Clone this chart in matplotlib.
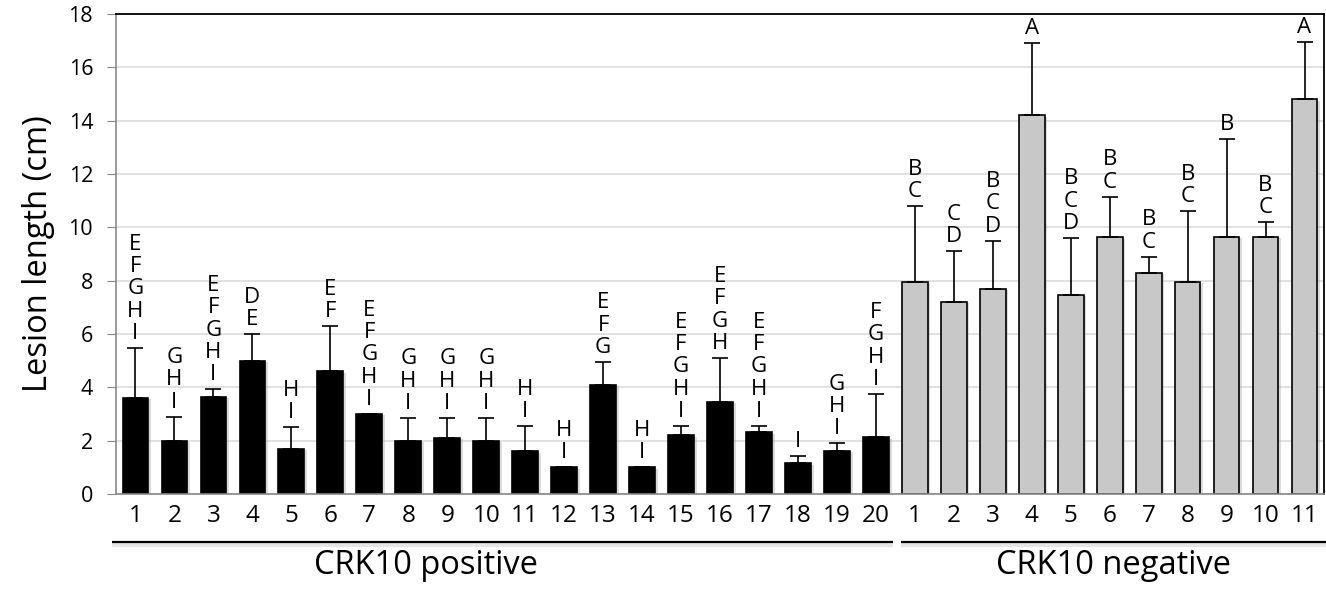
import matplotlib

matplotlib.use("Agg")
import matplotlib.patheffects as pe
import matplotlib.pyplot as plt
import matplotlib.transforms as mtransforms
import numpy as np

plt.rcParams["font.family"] = ["Open Sans", "DejaVu Sans"]

# CRK10 positive lines (black bars)
pos_labels = [str(i) for i in range(1, 21)]
pos_mean = [3.6, 2.0, 3.65, 5.0, 1.7, 4.6, 3.0, 2.0, 2.1, 2.0,
            1.6, 1.0, 4.1, 1.0, 2.2, 3.45, 2.32, 1.15, 1.62, 2.13]
pos_err = [1.87, 0.9, 0.27, 1.0, 0.8, 1.7, 0.0, 0.85, 0.75, 0.85,
           0.95, 0.0, 0.85, 0.0, 0.35, 1.65, 0.23, 0.27, 0.28, 1.62]
pos_letters = ["EFGHI", "GHI", "EFGHI", "DE", "HI", "EF", "EFGHI", "GHI", "GHI", "GHI",
               "HI", "HI", "EFG", "HI", "EFGHI", "EFGH", "EFGHI", "I", "GHI", "FGHI"]

# CRK10 negative lines (grey bars)
neg_labels = [str(i) for i in range(1, 12)]
neg_mean = [7.95, 7.2, 7.7, 14.2, 7.46, 9.62, 8.3, 7.95, 9.65, 9.64, 14.8]
neg_err = [2.85, 1.9, 1.8, 2.7, 2.14, 1.53, 0.6, 2.65, 3.65, 0.56, 2.15]
neg_letters = ["BC", "CD", "BCD", "A", "BCD", "BC", "BC", "BC", "B", "BC", "A"]

groups = ["CRK10 positive", "CRK10 negative"]
y_ticks = list(range(0, 19, 2))

means = pos_mean + neg_mean
errs = pos_err + neg_err
letters = pos_letters + neg_letters
tick_labels = pos_labels + neg_labels
colors = ["black"] * len(pos_mean) + ["#c8c8c8"] * len(neg_mean)
x = np.arange(len(means))

fig = plt.figure(figsize=(13.26, 5.9), dpi=100)
ax = fig.add_axes([116 / 1326, 1 - 494 / 590, 1208 / 1326, 480 / 590])

ax.set_axisbelow(True)
ax.yaxis.grid(True, color="#d9d9d9", linewidth=1.1)
bars = ax.bar(x, means, width=0.66, color=colors, edgecolor="black", linewidth=1.2, zorder=2)
# soft drop shadow like the office-style original
for b in bars:
    b.set_path_effects([pe.SimplePatchShadow(offset=(2, -1), shadow_rgbFace="#9a9a9a", alpha=0.35),
                        pe.Normal()])
ax.errorbar(x, means, yerr=[np.zeros(len(errs)), errs], fmt="none", ecolor="black",
            elinewidth=1.2, capsize=5.5, capthick=1.2, zorder=3)

for xi, m, e, lab in zip(x, means, errs, letters):
    ax.annotate("\n".join(lab), xy=(xi, m + e), xytext=(0, 3), textcoords="offset points",
                ha="center", va="bottom", fontsize=16, linespacing=1.08)

ax.set_xlim(-0.5, len(means) - 0.5)
ax.set_ylim(0, 18)
ax.set_yticks(y_ticks)
ax.set_xticks(x)
ax.set_xticklabels(tick_labels, fontsize=17.5)
ax.tick_params(axis="x", length=0, pad=7)
ax.tick_params(axis="y", labelsize=15.5, length=6.5, color="#888888", pad=10)
ax.set_ylabel("Lesion length (cm)", fontsize=23.5, labelpad=10)

for side in ("top", "right"):
    ax.spines[side].set_color("black")
    ax.spines[side].set_linewidth(1.3)
for side in ("left", "bottom"):
    ax.spines[side].set_color("#888888")
    ax.spines[side].set_linewidth(1.2)

# group underlines and labels below the axis
trans = mtransforms.blended_transform_factory(ax.transData, fig.transFigure)
n_pos = len(pos_mean)
spans = [(-0.6, n_pos - 0.56), (n_pos - 0.36, len(means) - 0.45)]
label_x = [7.45, 25.1]
for (x0, x1), name, lx in zip(spans, groups, label_x):
    ax.plot([x0, x1], [1 - 545 / 590] * 2, transform=trans, color="#e6e6e6",
            linewidth=3.0, clip_on=False, solid_capstyle="butt")
    ax.plot([x0, x1], [1 - 542 / 590] * 2, transform=trans, color="black",
            linewidth=1.6, clip_on=False, solid_capstyle="butt")
    ax.text(lx, 1 - 566 / 590, name, transform=trans, ha="center", va="center", fontsize=23.5)

fig.savefig("out.png", dpi=100)
